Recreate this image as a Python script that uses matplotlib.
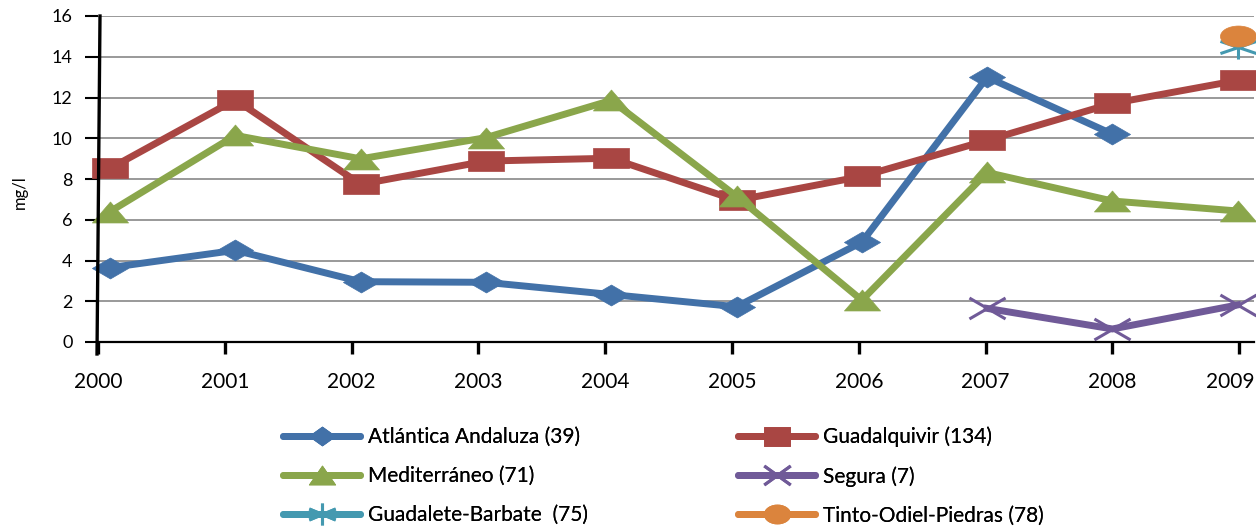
import numpy as np
import matplotlib
matplotlib.use("Agg")
import matplotlib.pyplot as plt
import matplotlib.transforms as mtransforms
from matplotlib.path import Path
from matplotlib.lines import Line2D

plt.rcParams['font.family'] = ['Lato', 'DejaVu Sans']

# Datos (mg/l) por demarcación
years = ['2000', '2001', '2002', '2003', '2004', '2005', '2006', '2007', '2008', '2009']
atlantica = [3.65, 4.5, 2.96, 2.93, 2.33, 1.73, 4.9, 13.0, 10.2, np.nan]
guadalquivir = [8.52, 11.89, 7.74, 8.88, 9.02, 6.95, 8.13, 9.9, 11.71, 12.84]
mediterraneo = [6.4, 10.14, 8.99, 10.03, 11.86, 7.15, 2.05, 8.32, 6.92, 6.43]
segura = [np.nan] * 7 + [1.65, 0.64, 1.82]
guadalete = [np.nan] * 9 + [14.48]
tinto = [np.nan] * 9 + [15.03]

labels = ['Atlántica Andaluza (39)', 'Guadalquivir (134)', 'Mediterráneo (71)',
          'Segura (7)', 'Guadalete-Barbate  (75)', 'Tinto-Odiel-Piedras (78)']
colors = ['#4271a8', '#a94643', '#8aa64b', '#705a98', '#4499b0', '#db843d']


# marcadores "aplastados" (efecto de perspectiva del grafico 3D)
def squashed(kind, sy):
    if kind == 'diamond':
        v = [(0, 1), (1, 0), (0, -1), (-1, 0), (0, 1)]
        c = [Path.MOVETO] + [Path.LINETO] * 3 + [Path.CLOSEPOLY]
    elif kind == 'square':
        v = [(-1, -1), (1, -1), (1, 1), (-1, 1), (-1, -1)]
        c = [Path.MOVETO] + [Path.LINETO] * 3 + [Path.CLOSEPOLY]
    elif kind == 'triangle':
        v = [(-1, -1), (1, -1), (0, 1), (-1, -1)]
        c = [Path.MOVETO] + [Path.LINETO] * 2 + [Path.CLOSEPOLY]
    elif kind == 'x':
        v = [(-1, -1), (1, 1), (-1, 1), (1, -1)]
        c = [Path.MOVETO, Path.LINETO, Path.MOVETO, Path.LINETO]
    elif kind == 'asterisk':
        v = [(0, -1.15), (0, 1.15), (-1, -0.58), (1, 0.58), (-1, 0.58), (1, -0.58)]
        c = [Path.MOVETO, Path.LINETO] * 3
    else:  # ellipse
        p = Path.unit_circle()
        v = p.vertices.copy()
        c = p.codes
    v = np.array(v, dtype=float)
    v[:, 1] *= sy
    return Path(v, c)


kinds = ['diamond', 'square', 'triangle', 'x', 'asterisk', 'ellipse']
series = [atlantica, guadalquivir, mediterraneo, segura, guadalete, tinto]

fig = plt.figure(figsize=(12.56, 5.26), dpi=100)
ax = fig.add_axes([98 / 1256, 1 - 342 / 526, (1254 - 98) / 1256, 326 / 526])

x = np.arange(len(years))
for vals, kind, col in zip(series, kinds, colors):
    open_marker = kind in ('x', 'asterisk')
    ax.plot(x, vals, color=col, lw=5, solid_joinstyle='miter',
            marker=squashed(kind, 0.58), markersize=26,
            markerfacecolor=col, markeredgecolor=col,
            markeredgewidth=2.2 if open_marker else 0.5,
            clip_on=False)

# desplazamiento de profundidad entre las marcas del eje y los puntos
ax.set_xlim(-0.096, 9.13)
ax.set_xticks(x * 1.012 - 0.096)
ax.set_xticklabels(years, fontsize=15)
ax.set_ylim(0, 16)
ax.set_yticks(np.arange(0, 17, 2))
ax.tick_params(axis='y', labelsize=13, length=9.4, width=1.5, pad=9)
ax.tick_params(axis='x', length=8.6, width=2.4, pad=13, direction='out')
ax.yaxis.grid(True, color='#999999', lw=1.4)
ax.set_axisbelow(True)
for s in ['top', 'right', 'left']:
    ax.spines[s].set_visible(False)
ax.spines['bottom'].set_linewidth(1.6)
fig.add_artist(Line2D([97 / 1256, 100 / 1256], [1 - 354 / 526, 1 - 16 / 526],
                      transform=fig.transFigure, color='black', lw=2.4))

# la ultima etiqueta se corre un poco para no salirse
last = ax.get_xticklabels()[-1]
last.set_transform(last.get_transform() +
                   mtransforms.ScaledTranslation(-9 / 100, 0, fig.dpi_scale_trans))

fig.text(20 / 1256, 1 - 192 / 526, 'mg/l', rotation=90, fontsize=12,
         ha='center', va='center')

# leyenda en dos columnas
handles = []
for kind, col in zip(kinds, colors):
    open_marker = kind in ('x', 'asterisk')
    handles.append(Line2D([], [], color=col, lw=5, solid_capstyle='round',
                          marker=squashed(kind, 0.72), markersize=19,
                          markerfacecolor=col, markeredgecolor=col,
                          markeredgewidth=2.2 if open_marker else 0.5))

fs = 15
fpx = fs * 100 / 72
for idx, x0 in zip([[0, 2, 4], [1, 3, 5]], [283, 738]):
    leg = fig.legend([handles[i] for i in idx], [labels[i] for i in idx],
                     loc='center left', bbox_to_anchor=(x0 / 1256, 1 - 476 / 526),
                     frameon=False, fontsize=fs, borderpad=0, borderaxespad=0,
                     handlelength=77 / fpx, handletextpad=8 / fpx,
                     labelspacing=0.92)
    fig.add_artist(leg)

fig.savefig('out.png', dpi=100)
